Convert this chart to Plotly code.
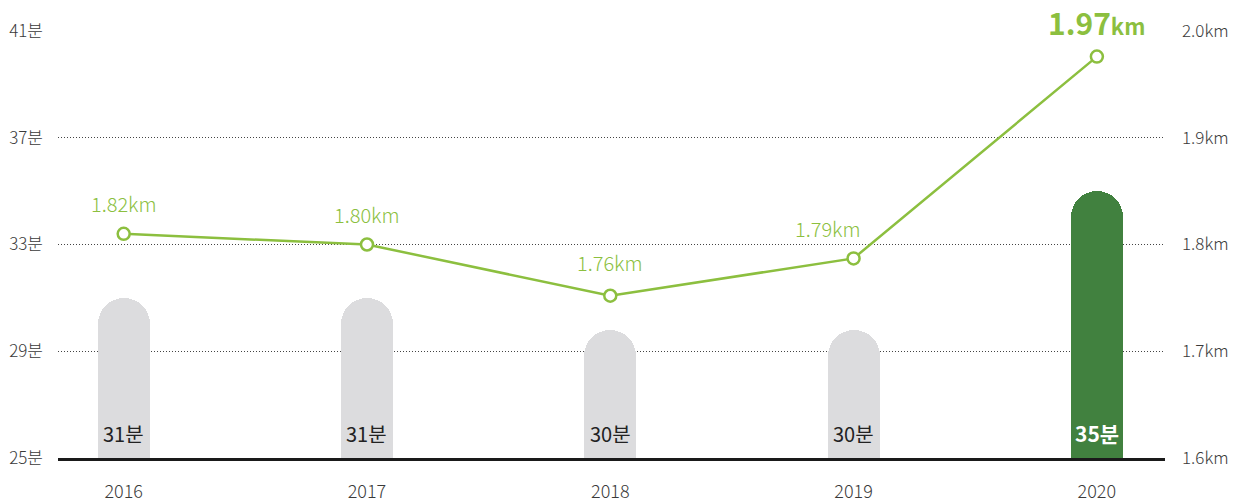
import plotly.graph_objects as go

years = ["2016", "2017", "2018", "2019", "2020"]
minutes = [31, 31, 29.8, 29.8, 35]
minute_labels = ["31분", "31분", "30분", "30분", "35분"]
distance_km = [1.81, 1.80, 1.752, 1.787, 1.976]
distance_labels = ["1.82km", "1.80km", "1.76km", "1.79km", "1.97km"]
left_ticks = [25, 29, 33, 37, 41]
left_ticktext = ["25분", "29분", "33분", "37분", "41분"]
right_ticks = [1.6, 1.7, 1.8, 1.9, 2.0]
right_ticktext = ["1.6km", "1.7km", "1.8km", "1.9km", "2.0km"]

FONT = "Noto Sans CJK KR"
GREEN_LINE = "#8cbf3f"
GRAY_BAR = "#dcdcde"
GREEN_BAR = "#41813f"
TICK_COLOR = "#3a3a3a"

xs = list(range(len(years)))
bar_colors = [GRAY_BAR] * (len(years) - 1) + [GREEN_BAR]

fig = go.Figure()
fig.add_trace(go.Bar(
    x=xs, y=minutes, base=0, width=0.214,
    marker=dict(color=bar_colors, cornerradius="50%", line=dict(width=0)),
    hoverinfo="skip", showlegend=False,
))
fig.add_trace(go.Scatter(
    x=xs, y=distance_km, yaxis="y2", mode="lines+markers",
    line=dict(color=GREEN_LINE, width=2.5),
    marker=dict(size=12, color="white", line=dict(color=GREEN_LINE, width=2.5)),
    hoverinfo="skip", showlegend=False,
))

annotations = []
for i, (m, lab) in enumerate(zip(minutes, minute_labels)):
    last = i == len(years) - 1
    annotations.append(dict(
        x=i, y=25, xref="x", yref="y", text=lab, showarrow=False,
        yanchor="middle", yshift=25,
        font=dict(family=FONT, size=21 if last else 20,
                  color="white" if last else "#222",
                  weight="bold" if last else "normal"),
    ))
label_xshift = [0, 0, 0, -26, 0]
label_yshift = [30, 30, 33, 30, 35]
for i, (d, lab) in enumerate(zip(distance_km, distance_labels)):
    last = i == len(years) - 1
    if last:
        num = lab.replace("km", "")
        txt = f"<b>{num}</b><span style='font-size:22px'><b>km</b></span>"
        annotations.append(dict(
            x=i, y=d, xref="x", yref="y2", text=txt, showarrow=False,
            yanchor="middle", yshift=label_yshift[i], xshift=label_xshift[i],
            font=dict(family=FONT, size=30, color=GREEN_LINE),
        ))
    else:
        annotations.append(dict(
            x=i, y=d, xref="x", yref="y2", text=lab, showarrow=False,
            yanchor="middle", yshift=label_yshift[i], xshift=label_xshift[i],
            font=dict(family=FONT, size=20, color=GREEN_LINE, weight=300),
        ))

fig.update_layout(
    width=1244, height=504,
    margin=dict(l=58, r=79, t=31, b=46, autoexpand=False),
    paper_bgcolor="white", plot_bgcolor="white",
    font=dict(family=FONT, color="#333"),
    bargap=0,
    xaxis=dict(
        range=[-0.27, 4.28], tickvals=xs, ticktext=years,
        showgrid=False, zeroline=False, showline=True,
        linecolor="#1a1a1a", linewidth=3, ticks="",
        tickfont=dict(family=FONT, size=18, color=TICK_COLOR, weight=300),
        ticklabelstandoff=15, automargin=False,
    ),
    yaxis=dict(
        range=[25, 41], tickvals=left_ticks, ticktext=left_ticktext,
        showgrid=True, gridcolor="#444", gridwidth=1, griddash="1px,2px",
        zeroline=False, showline=False, ticks="",
        tickfont=dict(family=FONT, size=17, color=TICK_COLOR, weight=300),
        ticklabelstandoff=14, automargin=False,
    ),
    yaxis2=dict(
        range=[1.6, 2.0], tickvals=right_ticks, ticktext=right_ticktext,
        overlaying="y", side="right", showgrid=False, zeroline=False,
        showline=False, ticks="",
        tickfont=dict(family=FONT, size=17, color=TICK_COLOR, weight=300),
        ticklabelstandoff=16, automargin=False,
    ),
    annotations=annotations,
)

fig.write_html("out.html")
